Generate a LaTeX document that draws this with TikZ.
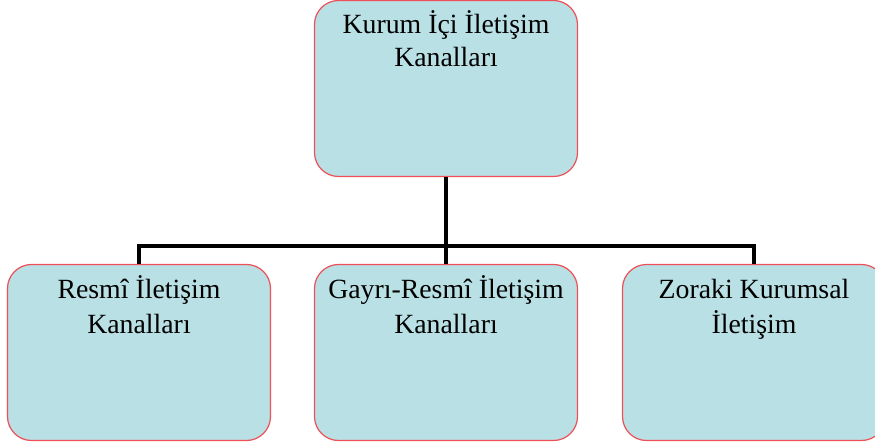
\documentclass[tikz,border=0pt]{standalone}
\usepackage{fontspec}
\setmainfont{Liberation Serif}
\usetikzlibrary{calc}
\definecolor{boxfill}{RGB}{185,224,228}
\definecolor{boxline}{RGB}{238,80,88}
\tikzset{
  card/.style={draw=boxline, fill=boxfill, line width=1.2pt, rounded corners=24pt,
    minimum width=263pt, minimum height=176pt, inner sep=0pt},
  cardtext/.style={font=\fontsize{27.8}{33}\selectfont, align=center, anchor=base, inner sep=0pt},
  link/.style={line width=4pt, black}
}
\begin{document}
\begin{tikzpicture}[x=1pt,y=-1pt]
\useasboundingbox (0,0) rectangle (875,446);
\clip (0,0) rectangle (875,446);
\node[card] (top) at (446,88.5) {};
\node[card] (left) at (139,352.5) {};
\node[card] (mid) at (446,352.5) {};
\node[card] (right) at (754,352.5) {};
\coordinate (bus) at (446,246);
\draw[link] (top.south) -- (bus);
\draw[link] (left.north) |- (bus) -| (right.north);
\draw[link] (bus) -- (mid.north);
\node[cardtext] (ttop) at ($(top.north)+(0,34)$) {Kurum İçi İletişim};
\node[cardtext] (ttop2) at ($(top.north)+(0,67)$) {Kanalları};
\node[cardtext] (tleft) at ($(left.north)+(0,35)$) {Resmî İletişim};
\node[cardtext] (tleft2) at ($(left.north)+(0,70)$) {Kanalları};
\node[cardtext] (tmid) at ($(mid.north)+(0,35)$) {Gayrı-Resmî İletişim};
\node[cardtext] (tmid2) at ($(mid.north)+(0,70)$) {Kanalları};
\node[cardtext] (tright) at ($(right.north)+(0,35)$) {Zoraki Kurumsal};
\node[cardtext] (tright2) at ($(right.north)+(0,70)$) {İletişim};
\end{tikzpicture}
\end{document}
